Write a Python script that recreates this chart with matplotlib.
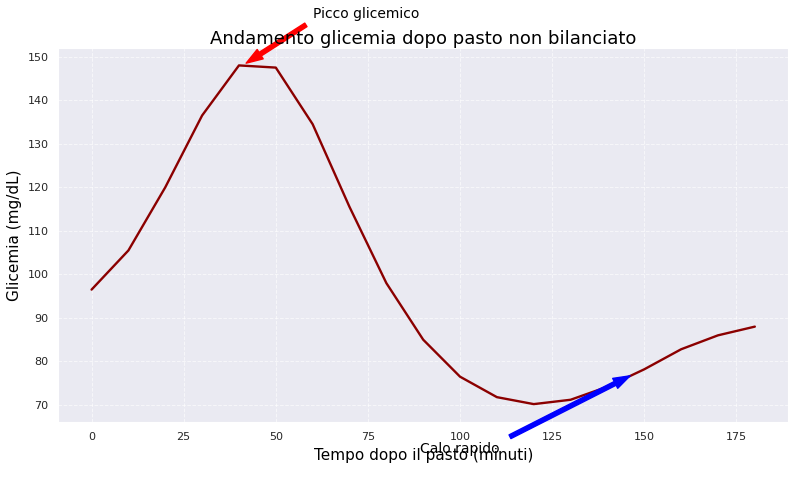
import matplotlib
matplotlib.use("Agg")
import matplotlib.pyplot as plt
import seaborn as sns

minutes = list(range(0, 181, 10))
glucose = [96.5, 105.5, 120, 136.5, 148, 147.5, 134.5, 115.5, 98, 85, 76.5, 71.8, 70.2, 71.2, 74.2, 78.2, 82.8, 86, 88]

sns.set_style("darkgrid", {"grid.linestyle": "--", "text.color": "black",
                           "axes.labelcolor": "black"})
fig, ax = plt.subplots(figsize=(8, 4.8), dpi=100)
ax.grid(True, linestyle="--", alpha=0.6, linewidth=0.7)
ax.plot(minutes, glucose, color="darkred", lw=1.7)
ax.set_xlim(-9, 189)
ax.set_ylim(66, 152)
ax.set_title("Andamento glicemia dopo pasto non bilanciato", fontsize=13, pad=3)
ax.set_xlabel("Tempo dopo il pasto (minuti)", fontsize=11)
ax.set_ylabel("Glicemia (mg/dL)", fontsize=11)
ax.tick_params(labelsize=8)
ax.annotate("Picco glicemico", xy=(41, 148), xytext=(60, 159), fontsize=10,
            arrowprops=dict(facecolor="red", edgecolor="red", shrink=0.05, width=3, headwidth=8),
            annotation_clip=False)
ax.annotate("Calo rapido", xy=(148, 77.5), xytext=(100, 59), fontsize=10, ha="center",
            arrowprops=dict(facecolor="blue", edgecolor="blue", shrink=0.05, width=3, headwidth=8),
            annotation_clip=False)
fig.subplots_adjust(left=0.073, right=0.985, top=0.9, bottom=0.12)
fig.savefig("out.png")
